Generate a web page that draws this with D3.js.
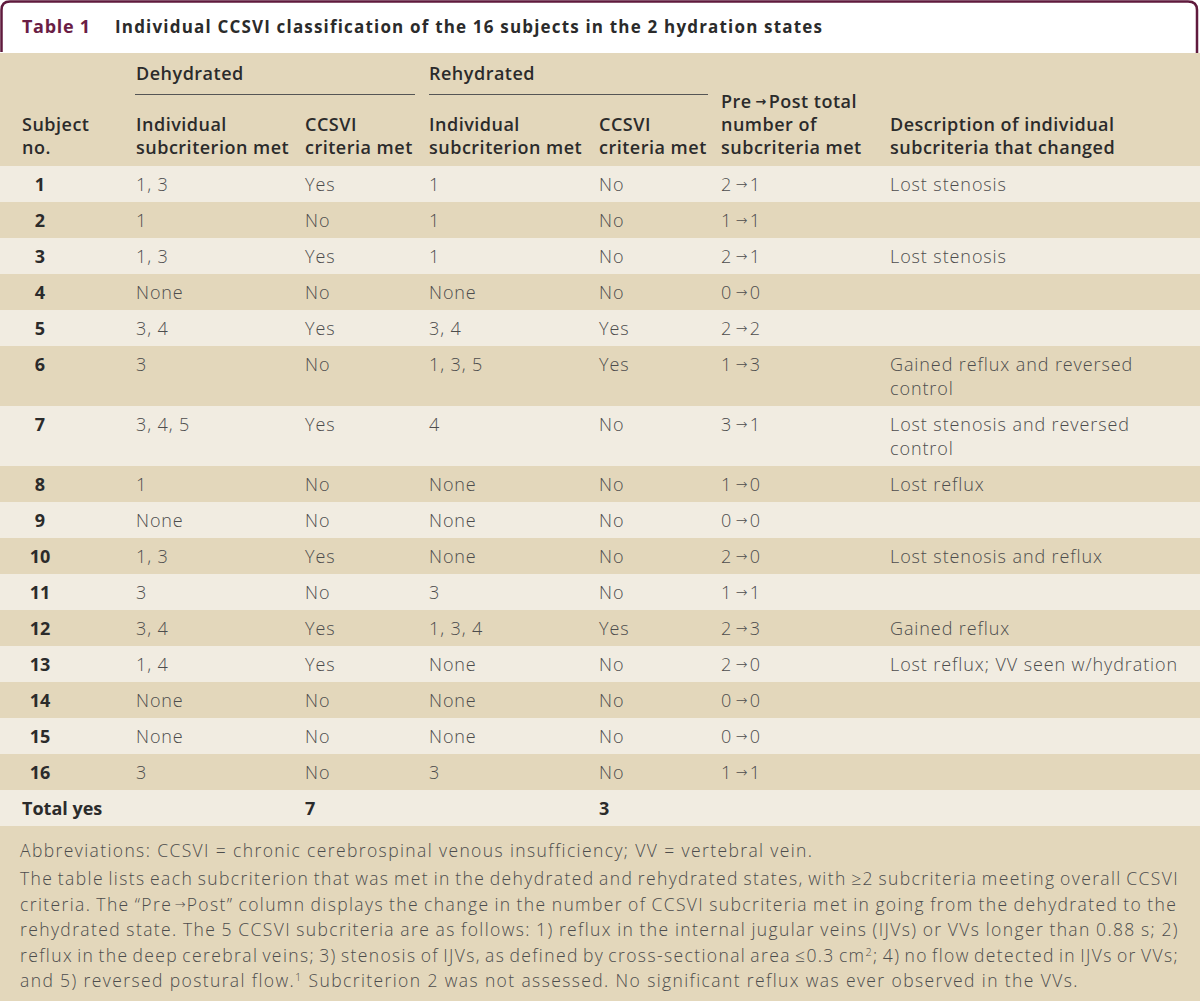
<!DOCTYPE html>
<html>
<head>
<meta charset="utf-8">
<script src="https://cdn.jsdelivr.net/npm/d3@7"></script>
<style>
  html, body { margin: 0; padding: 0; background: #fff; }
  svg { display: block; }
</style>
</head>
<body>
<svg width="1200" height="1001"></svg>
<script>
// table data
const subjects = ["1","2","3","4","5","6","7","8","9","10","11","12","13","14","15","16"];
const dehydSub = ["1, 3","1","1, 3","None","3, 4","3","3, 4, 5","1","None","1, 3","3","3, 4","1, 4","None","None","3"];
const dehydCrit = ["Yes","No","Yes","No","Yes","No","Yes","No","No","Yes","No","Yes","Yes","No","No","No"];
const rehydSub = ["1","1","1","None","3, 4","1, 3, 5","4","None","None","None","3","1, 3, 4","None","None","None","3"];
const rehydCrit = ["No","No","No","No","Yes","Yes","No","No","No","No","No","Yes","No","No","No","No"];
const prePost = ["2→1","1→1","2→1","0→0","2→2","1→3","3→1","1→0","0→0","2→0","1→1","2→3","2→0","0→0","0→0","1→1"];
const changes = [
  ["Lost stenosis"], [], ["Lost stenosis"], [], [],
  ["Gained reflux and reversed", "control"],
  ["Lost stenosis and reversed", "control"],
  ["Lost reflux"], [], ["Lost stenosis and reflux"], [],
  ["Gained reflux"], ["Lost reflux; VV seen w/hydration"], [], [], []
];
const totalYes = { dehyd: "7", rehyd: "3" };

const titleLabel = "Table 1";
const titleText = "Individual CCSVI classification of the 16 subjects in the 2 hydration states";

const footLines = [
  ["Abbreviations: CCSVI = chronic cerebrospinal venous insufficiency; VV = vertebral vein.", false],
  ["The table lists each subcriterion that was met in the dehydrated and rehydrated states, with \u22652 subcriteria meeting overall CCSVI", true],
  ["criteria. The \u201CPre\u2192Post\u201D column displays the change in the number of CCSVI subcriteria met in going from the dehydrated to the", true],
  ["rehydrated state. The 5 CCSVI subcriteria are as follows: 1) reflux in the internal jugular veins (IJVs) or VVs longer than 0.88 s; 2)", true],
  ["reflux in the deep cerebral veins; 3) stenosis of IJVs, as defined by cross-sectional area \u22640.3 cm^2; 4) no flow detected in IJVs or VVs;", true],
  ["and 5) reversed postural flow.^1 Subcriterion 2 was not assessed. No significant reflux was ever observed in the VVs.", false]
];

const W = 1200, H = 1001;
const tan = "#e3d7bb", light = "#f1ece1", maroon = "#5f1a3d";
const dark = "#2b2b2b", gray = "#4d4d4d";
const boldFont = "'Open Sans', 'Liberation Sans', sans-serif";
const lightFont = "'Open Sans', 'Liberation Sans', sans-serif";
const arrowFont = "'DejaVu Sans', sans-serif";

const svg = d3.select("svg");

// columns
const col = d3.scaleOrdinal()
  .domain(["subj","dSub","dCrit","rSub","rCrit","pp","desc"])
  .range([40, 136, 305, 429, 599, 721, 890]);

// rows: each row 36px, every extra line adds 24px
const rows = subjects.map((s, i) => ({
  subj: s, dSub: dehydSub[i], dCrit: dehydCrit[i], rSub: rehydSub[i],
  rCrit: rehydCrit[i], pp: prePost[i], desc: changes[i],
  lines: Math.max(1, changes[i].length)
}));
const bodyTop = 166;
let acc = 0;
rows.forEach(r => { r.y0 = acc; r.h = 36 + (r.lines - 1) * 24; acc += r.h; });
const y = d3.scaleLinear().domain([0, 1]).range([bodyTop, bodyTop + 1]);

// fit a text element to a target width by scaling letter spacing
function fitWidth(t, target) {
  const len = t.node().getComputedTextLength();
  const n = t.text().length;
  if (n > 1) t.attr("letter-spacing", (target - len) / (n - 1));
}

// write a string into a text/tspan, giving the arrow its own font, ^n as superscript
function rich(t, str, arrowSize) {
  let pendingDy = 0;
  str.split(/(\u2192|\^\d)/).forEach(part => {
    if (!part.length) return;
    if (part === "\u2192") {
      t.append("tspan").attr("font-family", arrowFont).attr("font-size", arrowSize)
        .attr("dy", pendingDy - 2).text(" \u2192 ").attr("letter-spacing", -1);
      pendingDy = 2;
    } else if (part.startsWith("^")) {
      t.append("tspan").attr("dy", pendingDy - 6).attr("font-size", 11).text(part.slice(1));
      pendingDy = 6;
    } else {
      t.append("tspan").attr("dy", pendingDy || null).text(part);
      pendingDy = 0;
    }
  });
  return t;
}

// title box
svg.append("rect").attr("x", 0).attr("y", 0).attr("width", W).attr("height", 53).attr("fill", "#fff");
svg.append("path")
  .attr("d", "M1.5,52 V10 Q1.5,1.5 10,1.5 H1188 Q1197,1.5 1197,10 V53")
  .attr("fill", "none").attr("stroke", maroon).attr("stroke-width", 2.5);
const tl = svg.append("text").attr("x", 22).attr("y", 33)
  .attr("font-family", boldFont).attr("font-weight", 700).attr("font-size", 18)
  .attr("fill", "#6a1d45").text(titleLabel);
fitWidth(tl, 68);
const tt = svg.append("text").attr("x", 115).attr("y", 33)
  .attr("font-family", boldFont).attr("font-weight", 700).attr("font-size", 17)
  .attr("fill", dark).text(titleText);
fitWidth(tt, 707);

// header band
svg.append("rect").attr("x", 0).attr("y", 53).attr("width", W).attr("height", bodyTop - 53).attr("fill", tan);

const hdr = svg.append("g")
  .attr("font-family", boldFont).attr("font-weight", 600).attr("font-size", 18)
  .attr("letter-spacing", 0.5).attr("fill", dark);

function multi(g, x, ys, lines) {
  const t = g.append("text").attr("x", x);
  lines.forEach((l, i) => rich(t.append("tspan").attr("x", x).attr("y", ys[i]), l, 13));
  return t;
}
hdr.append("text").attr("x", col("dSub")).attr("y", 80).text("Dehydrated");
hdr.append("text").attr("x", col("rSub")).attr("y", 80).text("Rehydrated");
svg.append("line").attr("x1", 135).attr("x2", 415).attr("y1", 94.5).attr("y2", 94.5).attr("stroke", "#555").attr("stroke-width", 1);
svg.append("line").attr("x1", 429).attr("x2", 708).attr("y1", 94.5).attr("y2", 94.5).attr("stroke", "#555").attr("stroke-width", 1);
multi(hdr, 22, [131, 154], ["Subject", "no."]);
multi(hdr, col("dSub"), [131, 154], ["Individual", "subcriterion met"]);
multi(hdr, col("dCrit"), [131, 154], ["CCSVI", "criteria met"]);
multi(hdr, col("rSub"), [131, 154], ["Individual", "subcriterion met"]);
multi(hdr, col("rCrit"), [131, 154], ["CCSVI", "criteria met"]);
multi(hdr, col("pp"), [108, 131, 154], ["Pre\u2192Post total", "number of", "subcriteria met"]);
multi(hdr, col("desc"), [131, 154], ["Description of individual", "subcriteria that changed"]);

// body rows
const rowG = svg.selectAll("g.row").data(rows).enter().append("g")
  .attr("class", "row")
  .attr("transform", d => `translate(0,${y(d.y0)})`);
rowG.append("rect").attr("width", W).attr("height", d => d.h)
  .attr("fill", (d, i) => i % 2 === 0 ? light : tan);
rowG.append("text").attr("x", col("subj")).attr("y", 25).attr("text-anchor", "middle")
  .attr("font-family", boldFont).attr("font-weight", 700).attr("font-size", 18).attr("fill", dark)
  .text(d => d.subj);
rowG.each(function(d) {
  const g = d3.select(this);
  ["dSub","dCrit","rSub","rCrit","pp"].forEach(k => {
    const t = g.append("text").attr("x", col(k)).attr("y", 25)
      .attr("font-family", lightFont).attr("font-weight", 300).attr("font-size", 18)
      .attr("letter-spacing", 0.9).attr("fill", gray);
    rich(t, d[k], 14);
  });
  const t = g.append("text")
    .attr("font-family", lightFont).attr("font-weight", 300).attr("font-size", 18)
    .attr("letter-spacing", 0.9).attr("fill", gray);
  d.desc.forEach((l, i) => t.append("tspan").attr("x", col("desc")).attr("y", 25 + i * 24).text(l));
});

// total row
const totTop = bodyTop + acc;
const tot = svg.append("g").attr("transform", `translate(0,${totTop})`);
tot.append("rect").attr("width", W).attr("height", 36).attr("fill", light);
const totText = tot.append("g").attr("font-family", boldFont).attr("font-weight", 700).attr("font-size", 18).attr("fill", dark);
totText.append("text").attr("x", 22).attr("y", 25).text("Total yes");
totText.append("text").attr("x", col("dCrit")).attr("y", 25).text(totalYes.dehyd);
totText.append("text").attr("x", col("rCrit")).attr("y", 25).text(totalYes.rehyd);

// footnote
const footTop = totTop + 36;
svg.append("rect").attr("x", 0).attr("y", footTop).attr("width", W).attr("height", H - footTop).attr("fill", tan);
const footBase = [857, 885, 911, 936, 962, 987];
const fx0 = 20, fx1 = 1179;
const footTexts = footLines.map(([line, justify], i) => {
  const t = svg.append("text").attr("x", fx0).attr("y", footBase[i])
    .attr("font-family", lightFont).attr("font-weight", 300).attr("font-size", 17.5).attr("fill", gray);
  rich(t, line, 13);
  return t;
});
// widen the footnote letters so the first line spans as in the source, then justify
const len0 = footTexts[0].node().getComputedTextLength();
const ls = (812 - fx0 - len0) / (footLines[0][0].length - 1);
footTexts.forEach((t, i) => {
  t.attr("letter-spacing", ls);
  if (footLines[i][1]) {
    const len = t.node().getComputedTextLength();
    const spaces = (footLines[i][0].match(/ /g) || []).length;
    t.attr("word-spacing", (fx1 - fx0 - len) / spaces);
  }
});
</script>
</body>
</html>
